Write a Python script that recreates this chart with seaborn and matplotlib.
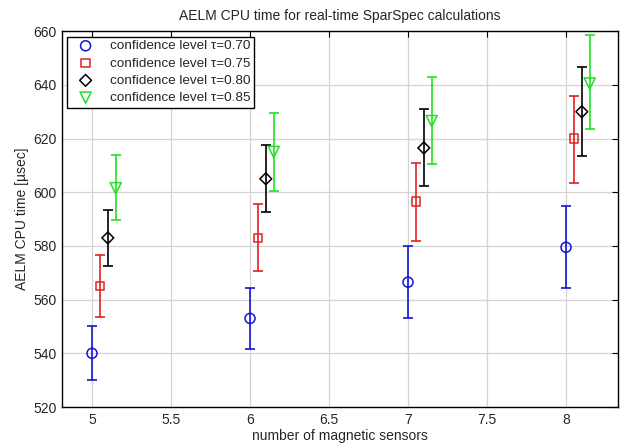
import numpy as np
import matplotlib
matplotlib.use("Agg")
import matplotlib.pyplot as plt
import seaborn as sns

# number of magnetic sensors
sensors = [5, 6, 7, 8]

# AELM CPU time [usec] per confidence level: centre, lower and upper end of the error bar
t70 = [540.0, 553.0, 566.5, 579.5]
t70_lo = [530.0, 541.5, 553.0, 564.5]
t70_hi = [550.0, 564.5, 580.0, 595.0]

t75 = [565.0, 583.0, 596.5, 620.0]
t75_lo = [553.5, 570.5, 582.0, 603.5]
t75_hi = [576.5, 595.5, 611.0, 636.0]

t80 = [583.0, 605.0, 616.5, 630.0]
t80_lo = [572.5, 592.5, 602.5, 613.5]
t80_hi = [593.5, 617.5, 631.0, 646.5]

t85 = [601.5, 615.0, 626.5, 640.5]
t85_lo = [589.5, 600.5, 610.5, 623.5]
t85_hi = [614.0, 629.5, 643.0, 658.5]

levels = ["0.70", "0.75", "0.80", "0.85"]

sns.set_style("whitegrid")
plt.rcParams['font.family'] = ['Liberation Sans', 'DejaVu Sans']

fig = plt.figure(figsize=(6.2, 4.48), dpi=100)
ax = fig.add_axes([0.1, 0.0915, 0.897, 0.839])

series = [
    (t70, t70_lo, t70_hi, '#1414d2', 'o', 0.00, 52),
    (t75, t75_lo, t75_hi, '#e02020', 's', 0.05, 38),
    (t80, t80_lo, t80_hi, 'black', 'D', 0.10, 36),
    (t85, t85_lo, t85_hi, '#22e022', 'v', 0.15, 64),
]

for (y, lo, hi, col, mk, off, sz), lvl in zip(series, levels):
    y = np.array(y)
    xs = np.array(sensors) + off
    yerr = [y - np.array(lo), np.array(hi) - y]
    ax.errorbar(xs, y, yerr=yerr, fmt='none', ecolor=col, elinewidth=1.2,
                capsize=3.5, capthick=1.2, zorder=2)
    sns.scatterplot(x=xs, y=y, marker=mk, s=sz, facecolor='none', edgecolor=col,
                    linewidth=1.1, label=f"confidence level \u03c4={lvl}", ax=ax, zorder=3)

ax.set_xlim(4.81, 8.33)
ax.set_ylim(520, 660)
ax.set_xticks(np.arange(5, 8.01, 0.5))
ax.set_xticklabels(['5', '5.5', '6', '6.5', '7', '7.5', '8'])
ax.set_yticks(np.arange(520, 661, 20))

ax.grid(True, color='#d4d4d4', linewidth=0.9)
for s in ax.spines.values():
    s.set_visible(True)
    s.set_color('black')
    s.set_linewidth(1.0)
ax.tick_params(direction='in', length=4, width=0.8, top=True, right=True,
               labelsize=10, color='black', pad=4)

ax.set_title("AELM CPU time for real-time SparSpec calculations", fontsize=10, pad=8)
ax.set_xlabel("number of magnetic sensors", fontsize=10, labelpad=2)
ax.set_ylabel("AELM CPU time [\u00b5sec]", fontsize=10, labelpad=3)

leg = ax.legend(loc='upper left', fontsize=9.7, frameon=True, fancybox=False,
                edgecolor='black', framealpha=1, borderpad=0.25, labelspacing=0.36,
                handletextpad=0.7, handlelength=2.2, borderaxespad=0.4)
leg.get_frame().set_linewidth(1.0)

fig.savefig("out.png", dpi=100, facecolor='white')
